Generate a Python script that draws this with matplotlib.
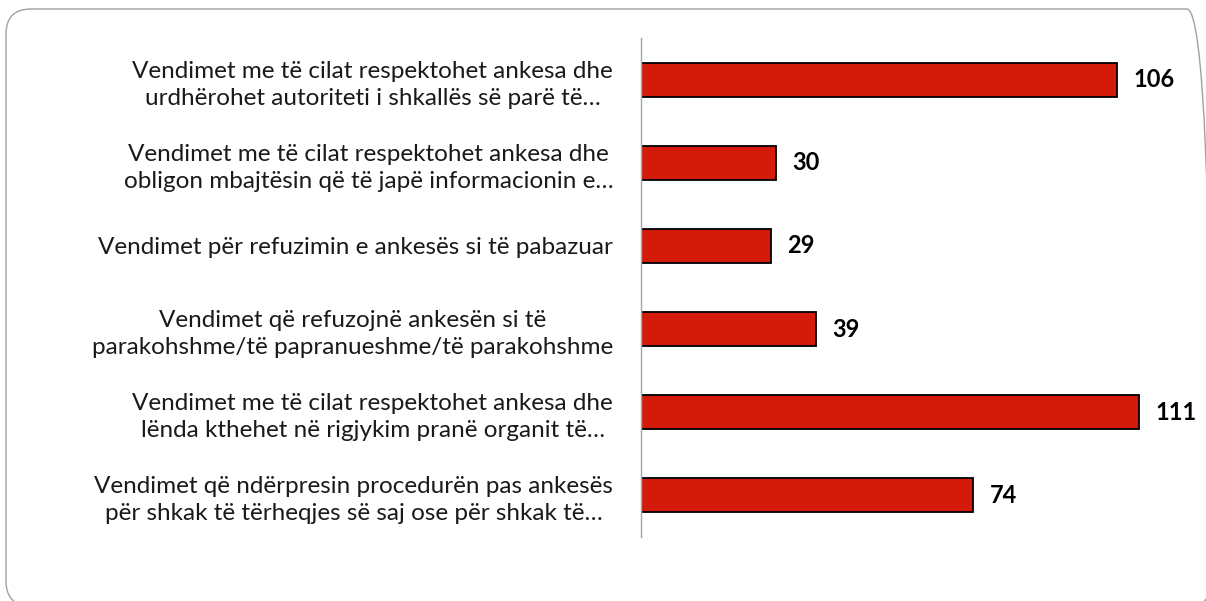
import matplotlib.pyplot as plt
from matplotlib.patches import FancyBboxPatch

categories = [
    "Vendimet me të cilat respektohet ankesa dhe\nurdhërohet autoriteti i shkallës së parë të…",
    "Vendimet me të cilat respektohet ankesa dhe\nobligon mbajtësin që të japë informacionin e…",
    "Vendimet për refuzimin e ankesës si të pabazuar",
    "Vendimet që refuzojnë ankesën si të\nparakohshme/të papranueshme/të parakohshme",
    "Vendimet me të cilat respektohet ankesa dhe\nlënda kthehet në rigjykim pranë organit të…",
    "Vendimet që ndërpresin procedurën pas ankesës\npër shkak të tërheqjes së saj ose për shkak të…",
]
values = [106, 30, 29, 39, 111, 74]

plt.rcParams['font.family'] = ['Lato', 'DejaVu Sans']

W, H = 1206, 601
fig = plt.figure(figsize=(W / 100, H / 100), dpi=100)
ax = fig.add_axes([641 / W, 1 - 537 / H, (1185 - 641) / W, (537 - 38) / H])

pos = list(range(len(categories)))
bars = ax.barh(pos, values, height=0.41, color='#D41A0A', edgecolor='black', linewidth=1.3)
ax.set_ylim(len(categories) - 0.5, -0.5)
ax.set_xlim(0, (1185 - 641) / 4.49)

for b, v in zip(bars, values):
    ax.text(b.get_width() + 3.6, b.get_y() + b.get_height() / 2, str(v),
            va='center', ha='left', fontsize=17, fontweight='bold', color='black')

ax.set_yticks(pos)
ax.set_yticklabels(categories, fontsize=17.5, color='#1a1a1a',
                   multialignment='center', linespacing=1.35)
ax.tick_params(axis='y', length=0, pad=20)
ax.set_xticks([])
for s in ['top', 'right', 'bottom']:
    ax.spines[s].set_visible(False)
ax.spines['left'].set_color('#A6A6A6')
ax.spines['left'].set_linewidth(1)

# rounded frame around the chart area, runs off the right and bottom edges
border = FancyBboxPatch((6, H - 606), 1212 - 6, 606 - 9,
                        boxstyle='round,pad=0,rounding_size=25',
                        transform=None, facecolor='none',
                        edgecolor='#A0A0A0', linewidth=1)
fig.patches.append(border)

fig.savefig('out.png', dpi=100)
